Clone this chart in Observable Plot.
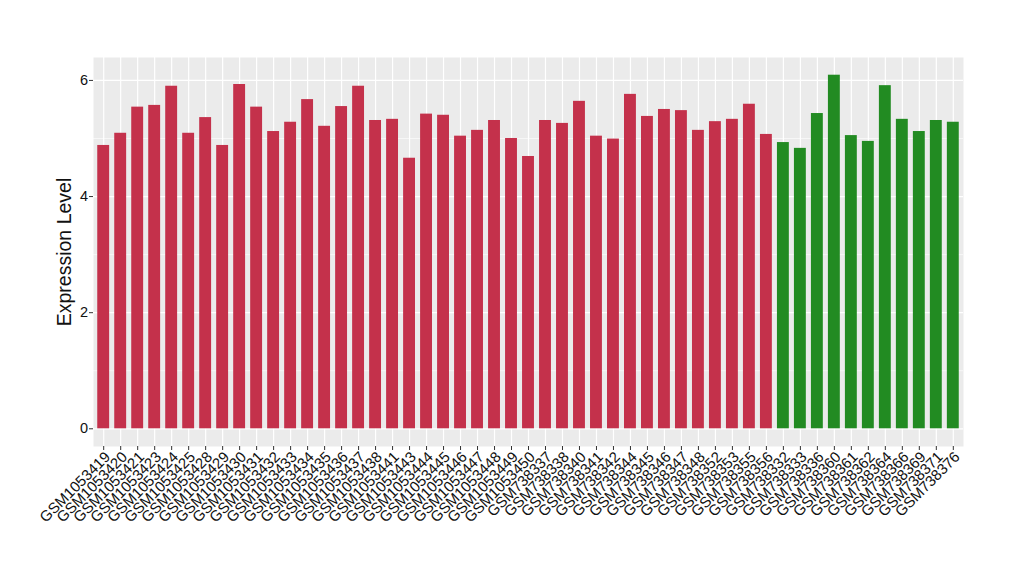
<!DOCTYPE html>
<html>
<head>
<meta charset="utf-8">
<script src="https://cdn.jsdelivr.net/npm/d3@7"></script>
<script src="https://cdn.jsdelivr.net/npm/@observablehq/plot@0.6"></script>
<style>
  html, body { margin: 0; padding: 0; background: #fff; }
  #chart svg { display: block; }
</style>
</head>
<body>
<div id="chart"></div>
<script>
const samples = [
  "GSM1053419","GSM1053420","GSM1053421","GSM1053423","GSM1053424","GSM1053425","GSM1053428","GSM1053429",
  "GSM1053430","GSM1053431","GSM1053432","GSM1053433","GSM1053434","GSM1053435","GSM1053436","GSM1053437",
  "GSM1053438","GSM1053441","GSM1053443","GSM1053444","GSM1053445","GSM1053446","GSM1053447","GSM1053448",
  "GSM1053449","GSM1053450","GSM738337","GSM738338","GSM738340","GSM738341","GSM738342","GSM738344",
  "GSM738345","GSM738346","GSM738347","GSM738348","GSM738352","GSM738353","GSM738355","GSM738356",
  "GSM738332","GSM738333","GSM738336","GSM738360","GSM738361","GSM738362","GSM738364","GSM738366",
  "GSM738369","GSM738371","GSM738376"
];
const values = [
  4.88,5.09,5.54,5.57,5.90,5.09,5.36,4.88,
  5.93,5.54,5.12,5.28,5.67,5.21,5.55,5.90,
  5.31,5.33,4.66,5.42,5.40,5.04,5.14,5.31,
  5.00,4.69,5.31,5.26,5.64,5.04,4.99,5.76,
  5.38,5.50,5.48,5.14,5.29,5.33,5.59,5.07,
  4.93,4.83,5.43,6.09,5.05,4.95,5.91,5.33,
  5.12,5.31,5.28
];
const groups = [
  ...Array(40).fill("A"),
  ...Array(11).fill("B")
];
const groupNames = ["A","B"];
const groupColors = ["#C4314B","#228B22"];
const yMajor = [0,2,4,6];
const yMinor = [1,3,5];
const yTitle = "Expression Level";

const data = samples.map((s,i) => ({sample: s, value: values[i], group: groups[i]}));

const chart = Plot.plot({
  width: 1020,
  height: 580,
  marginLeft: 93,
  marginRight: 57,
  marginTop: 57,
  marginBottom: 134,
  style: {fontFamily: "'Liberation Sans', Arial, Helvetica, sans-serif", background: "#fff"},
  x: {type: "band", domain: samples, paddingInner: 0.3, paddingOuter: 0.25},
  y: {domain: [-0.305, 6.395]},
  color: {domain: groupNames, range: groupColors},
  marks: [
    Plot.frame({fill: "#EBEBEB", stroke: null}),
    Plot.gridY(yMinor, {stroke: "white", strokeOpacity: 1, strokeWidth: 0.6}),
    Plot.gridY(yMajor, {stroke: "white", strokeOpacity: 1, strokeWidth: 1.2}),
    Plot.gridX({stroke: "white", strokeOpacity: 1, strokeWidth: 1.2}),
    Plot.barY(data, {x: "sample", y: "value", fill: "group"}),
    Plot.axisX({
      tickRotate: -45, tickSize: 4, tickPadding: 3, stroke: "#333",
      fontSize: 15, fill: "#111", label: null, text: null
    }),
    Plot.axisX({
      tickRotate: -45, tickSize: 0, tickPadding: 7, dx: 4, dy: 1,
      fontSize: 15, fill: "#111", label: null
    }),
    Plot.axisY(yMajor, {
      tickSize: 4, tickPadding: 1.5, stroke: "#333", fontSize: 14.5, fill: "#111",
      tickFormat: "d", label: null
    }),
    Plot.axisY({
      ticks: [], tickSize: 0, fontSize: 19.5, fill: "#111",
      label: yTitle, labelAnchor: "center", labelArrow: "none", labelOffset: 36
    })
  ]
});
document.getElementById("chart").append(chart);
</script>
</body>
</html>
